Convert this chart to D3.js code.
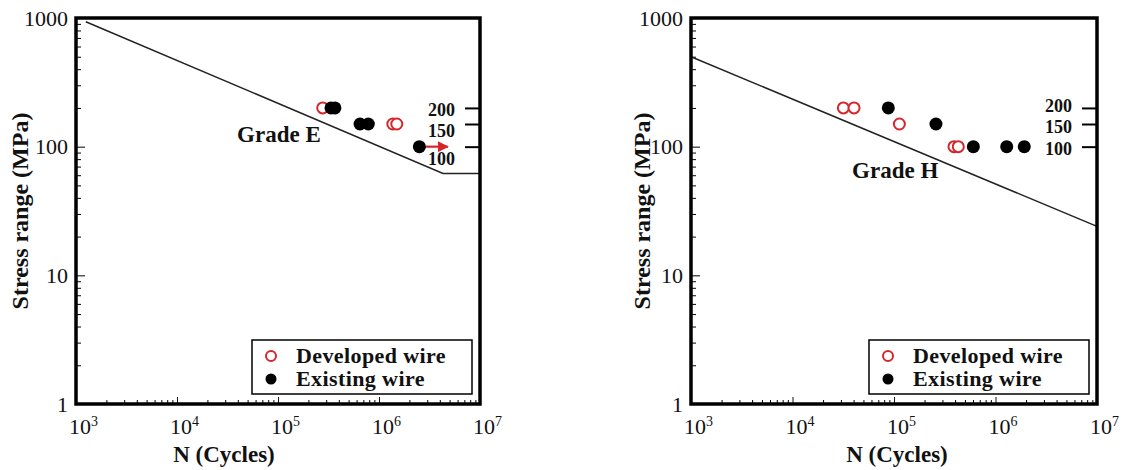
<!DOCTYPE html>
<html>
<head>
<meta charset="utf-8">
<script src="https://cdn.jsdelivr.net/npm/d3@7"></script>
<style>
  body { margin: 0; background: #fff; }
  svg { display: block; }
  text { font-family: "Liberation Serif", "Times New Roman", serif; fill: #111; }
</style>
</head>
<body>
<div class="vis"></div>
<script>
// S-N plots, two panels (Grade E / Grade H)

const FRAME_WIDTH = 1126;
const FRAME_HEIGHT = 470;

// axis values
const X_TICKS = [1e3, 1e4, 1e5, 1e6, 1e7];
const X_EXPONENTS = ["3", "4", "5", "6", "7"];
const Y_TICKS = [1, 10, 100, 1000];
const STRESS_LEVELS = [200, 150, 100];
const SERIES_NAMES = ["Developed wire", "Existing wire"];

// Grade E
const E_DEV_N = [2.77e5, 1.37e6, 1.50e6];
const E_DEV_S = [200, 150, 150];
const E_EXI_N = [3.35e5, 3.66e5, 6.49e5, 7.84e5, 2.51e6];
const E_EXI_S = [200, 200, 150, 150, 100];
const E_LINE_N = [1.25e3, 4.3e6, 1e7];
const E_LINE_S = [935, 62, 62];
const E_RUNOUT_N = [2.51e6, 4.8e6];
const E_RUNOUT_S = [100, 100];

// Grade H
const H_DEV_N = [3.17e4, 4.04e4, 1.13e5, 3.9e5, 4.3e5];
const H_DEV_S = [200, 200, 150, 100, 100];
const H_EXI_N = [8.79e4, 2.59e5, 6.05e5, 1.29e6, 1.92e6];
const H_EXI_S = [200, 150, 100, 100, 100];
const H_LINE_N = [1e3, 1e7];
const H_LINE_S = [500, 24];

const RED = "#d7262b";

const FRAME = d3.select(".vis")
    .append("svg")
        .attr("width", FRAME_WIDTH)
        .attr("height", FRAME_HEIGHT);

// arrow head for run-out
FRAME.append("defs").append("marker")
    .attr("id", "arrow")
    .attr("viewBox", "0 0 10 10")
    .attr("refX", 9).attr("refY", 5)
    .attr("markerWidth", 5).attr("markerHeight", 5)
    .attr("orient", "auto")
  .append("path")
    .attr("d", "M0,0 L10,5 L0,10 z")
    .attr("fill", RED);

const zip = (a, b) => a.map((v, i) => [v, b[i]]);

const PANELS = [
  {left: 76, top: 18, width: 404, height: 386, grade: "Grade E",
   gradeAt: [3.93e4, 109], labelDy: [2, 7, 12], ylabX: 20, titleX: 148,
   dev: zip(E_DEV_N, E_DEV_S), exi: zip(E_EXI_N, E_EXI_S),
   line: zip(E_LINE_N, E_LINE_S), runout: zip(E_RUNOUT_N, E_RUNOUT_S)},
  {left: 691, top: 18, width: 406, height: 386, grade: "Grade H",
   gradeAt: [3.86e4, 57.5], labelDy: [-2, 3, 2], ylabX: 642, titleX: 206,
   dev: zip(H_DEV_N, H_DEV_S), exi: zip(H_EXI_N, H_EXI_S),
   line: zip(H_LINE_N, H_LINE_S), runout: null}
];

PANELS.forEach((p) => {
    const W = p.width, H = p.height;
    const X_SCALE = d3.scaleLog().domain([1e3, 1e7]).range([0, W]);
    const Y_SCALE = d3.scaleLog().domain([1, 1000]).range([H, 0]);

    const g = FRAME.append("g")
        .attr("transform", "translate(" + p.left + "," + p.top + ")");

    const xMinor = X_SCALE.ticks().filter((d) => !X_TICKS.includes(d));
    const yMinor = Y_SCALE.ticks().filter((d) => !Y_TICKS.includes(d));

    // minor ticks (inside)
    g.append("g")
        .attr("transform", "translate(0," + H + ")")
        .call(d3.axisBottom(X_SCALE).tickValues(xMinor).tickSize(-4).tickFormat(""))
        .call((a) => a.select(".domain").remove());
    g.append("g")
        .call(d3.axisLeft(Y_SCALE).tickValues(yMinor).tickSize(-5).tickFormat(""))
        .call((a) => a.select(".domain").remove());

    // major x ticks + labels 10^n
    const xAxis = g.append("g")
        .attr("transform", "translate(0," + H + ")")
        .call(d3.axisBottom(X_SCALE).tickValues(X_TICKS).tickSizeInner(-7).tickSizeOuter(0).tickPadding(14))
        .call((a) => a.select(".domain").remove());
    xAxis.selectAll("line").attr("stroke", "#111");
    xAxis.selectAll("text")
        .attr("font-size", "22px")
        .attr("dx", "7px")
        .text("10")
        .append("tspan")
            .attr("dy", "-8")
            .attr("font-size", "14px")
            .text((d, i) => X_EXPONENTS[i]);

    // major y ticks + labels
    const yAxis = g.append("g")
        .call(d3.axisLeft(Y_SCALE).tickValues(Y_TICKS).tickSizeInner(-9).tickSizeOuter(0)
              .tickPadding(8).tickFormat(d3.format("d")))
        .call((a) => a.select(".domain").remove());
    yAxis.selectAll("text").attr("font-size", "22px");

    // stress level ticks on right side, labels inside
    const rAxis = g.append("g")
        .attr("transform", "translate(" + W + ",0)")
        .call(d3.axisLeft(Y_SCALE).tickValues(STRESS_LEVELS).tickSizeInner(15).tickSizeOuter(0)
              .tickPadding(10).tickFormat(d3.format("d")))
        .call((a) => a.select(".domain").remove());
    rAxis.selectAll("line").attr("stroke-width", 2);
    rAxis.selectAll("text")
        .attr("font-size", "18px")
        .attr("font-weight", "bold")
        .attr("dy", (d, i) => (0.32 + p.labelDy[i] / 18) + "em");

    // design curve
    g.append("path")
        .datum(p.line)
        .attr("fill", "none")
        .attr("stroke", "#222")
        .attr("stroke-width", 1.5)
        .attr("d", d3.line().x((d) => X_SCALE(d[0])).y((d) => Y_SCALE(d[1])));

    g.append("text")
        .attr("x", X_SCALE(p.gradeAt[0]))
        .attr("y", Y_SCALE(p.gradeAt[1]))
        .attr("font-size", "23px")
        .attr("font-weight", "bold")
        .text(p.grade);

    // run-out arrow
    if (p.runout) {
        g.append("line")
            .attr("x1", X_SCALE(p.runout[0][0]) + 4)
            .attr("x2", X_SCALE(p.runout[1][0]))
            .attr("y1", Y_SCALE(p.runout[0][1]))
            .attr("y2", Y_SCALE(p.runout[1][1]))
            .attr("stroke", RED)
            .attr("stroke-width", 2.2)
            .attr("marker-end", "url(#arrow)");
    }

    // data points
    g.selectAll(".dev")
        .data(p.dev)
        .enter().append("circle")
        .attr("class", "dev")
        .attr("cx", (d) => X_SCALE(d[0]))
        .attr("cy", (d) => Y_SCALE(d[1]))
        .attr("r", 5.5)
        .attr("fill", "#fff")
        .attr("stroke", RED)
        .attr("stroke-width", 2);

    g.selectAll(".exi")
        .data(p.exi)
        .enter().append("circle")
        .attr("class", "exi")
        .attr("cx", (d) => X_SCALE(d[0]))
        .attr("cy", (d) => Y_SCALE(d[1]))
        .attr("r", 6.5)
        .attr("fill", "#000");

    // frame
    g.append("rect")
        .attr("width", W).attr("height", H)
        .attr("fill", "none")
        .attr("stroke", "#000")
        .attr("stroke-width", 3.5);

    // legend
    const LW = 220, LH = 54;
    const leg = g.append("g")
        .attr("transform", "translate(" + (W - 8 - LW) + "," + (H - 10 - LH) + ")");
    leg.append("rect")
        .attr("width", LW).attr("height", LH)
        .attr("fill", "#fff")
        .attr("stroke", "#000")
        .attr("stroke-width", 1.5);
    SERIES_NAMES.forEach((name, i) => {
        const cy = 16 + i * 23;
        leg.append("circle")
            .attr("cx", 19).attr("cy", cy)
            .attr("r", i === 0 ? 5 : 5.5)
            .attr("fill", i === 0 ? "#fff" : "#000")
            .attr("stroke", i === 0 ? RED : "none")
            .attr("stroke-width", 2);
        leg.append("text")
            .attr("x", 44).attr("y", cy + 7)
            .attr("font-size", "22px")
            .attr("font-weight", "bold")
            .attr("letter-spacing", "0.4px")
            .text(name);
    });

    // axis titles
    g.append("text")
        .attr("x", p.titleX)
        .attr("y", H + 58)
        .attr("text-anchor", "middle")
        .attr("font-size", "23px")
        .attr("font-weight", "bold")
        .text("N (Cycles)");

    FRAME.append("text")
        .attr("transform", "translate(" + (p.ylabX + 8) + "," + (p.top + H / 2) + ") rotate(-90)")
        .attr("text-anchor", "middle")
        .attr("font-size", "24px")
        .attr("font-weight", "bold")
        .text("Stress range (MPa)");
});
</script>
</body>
</html>
